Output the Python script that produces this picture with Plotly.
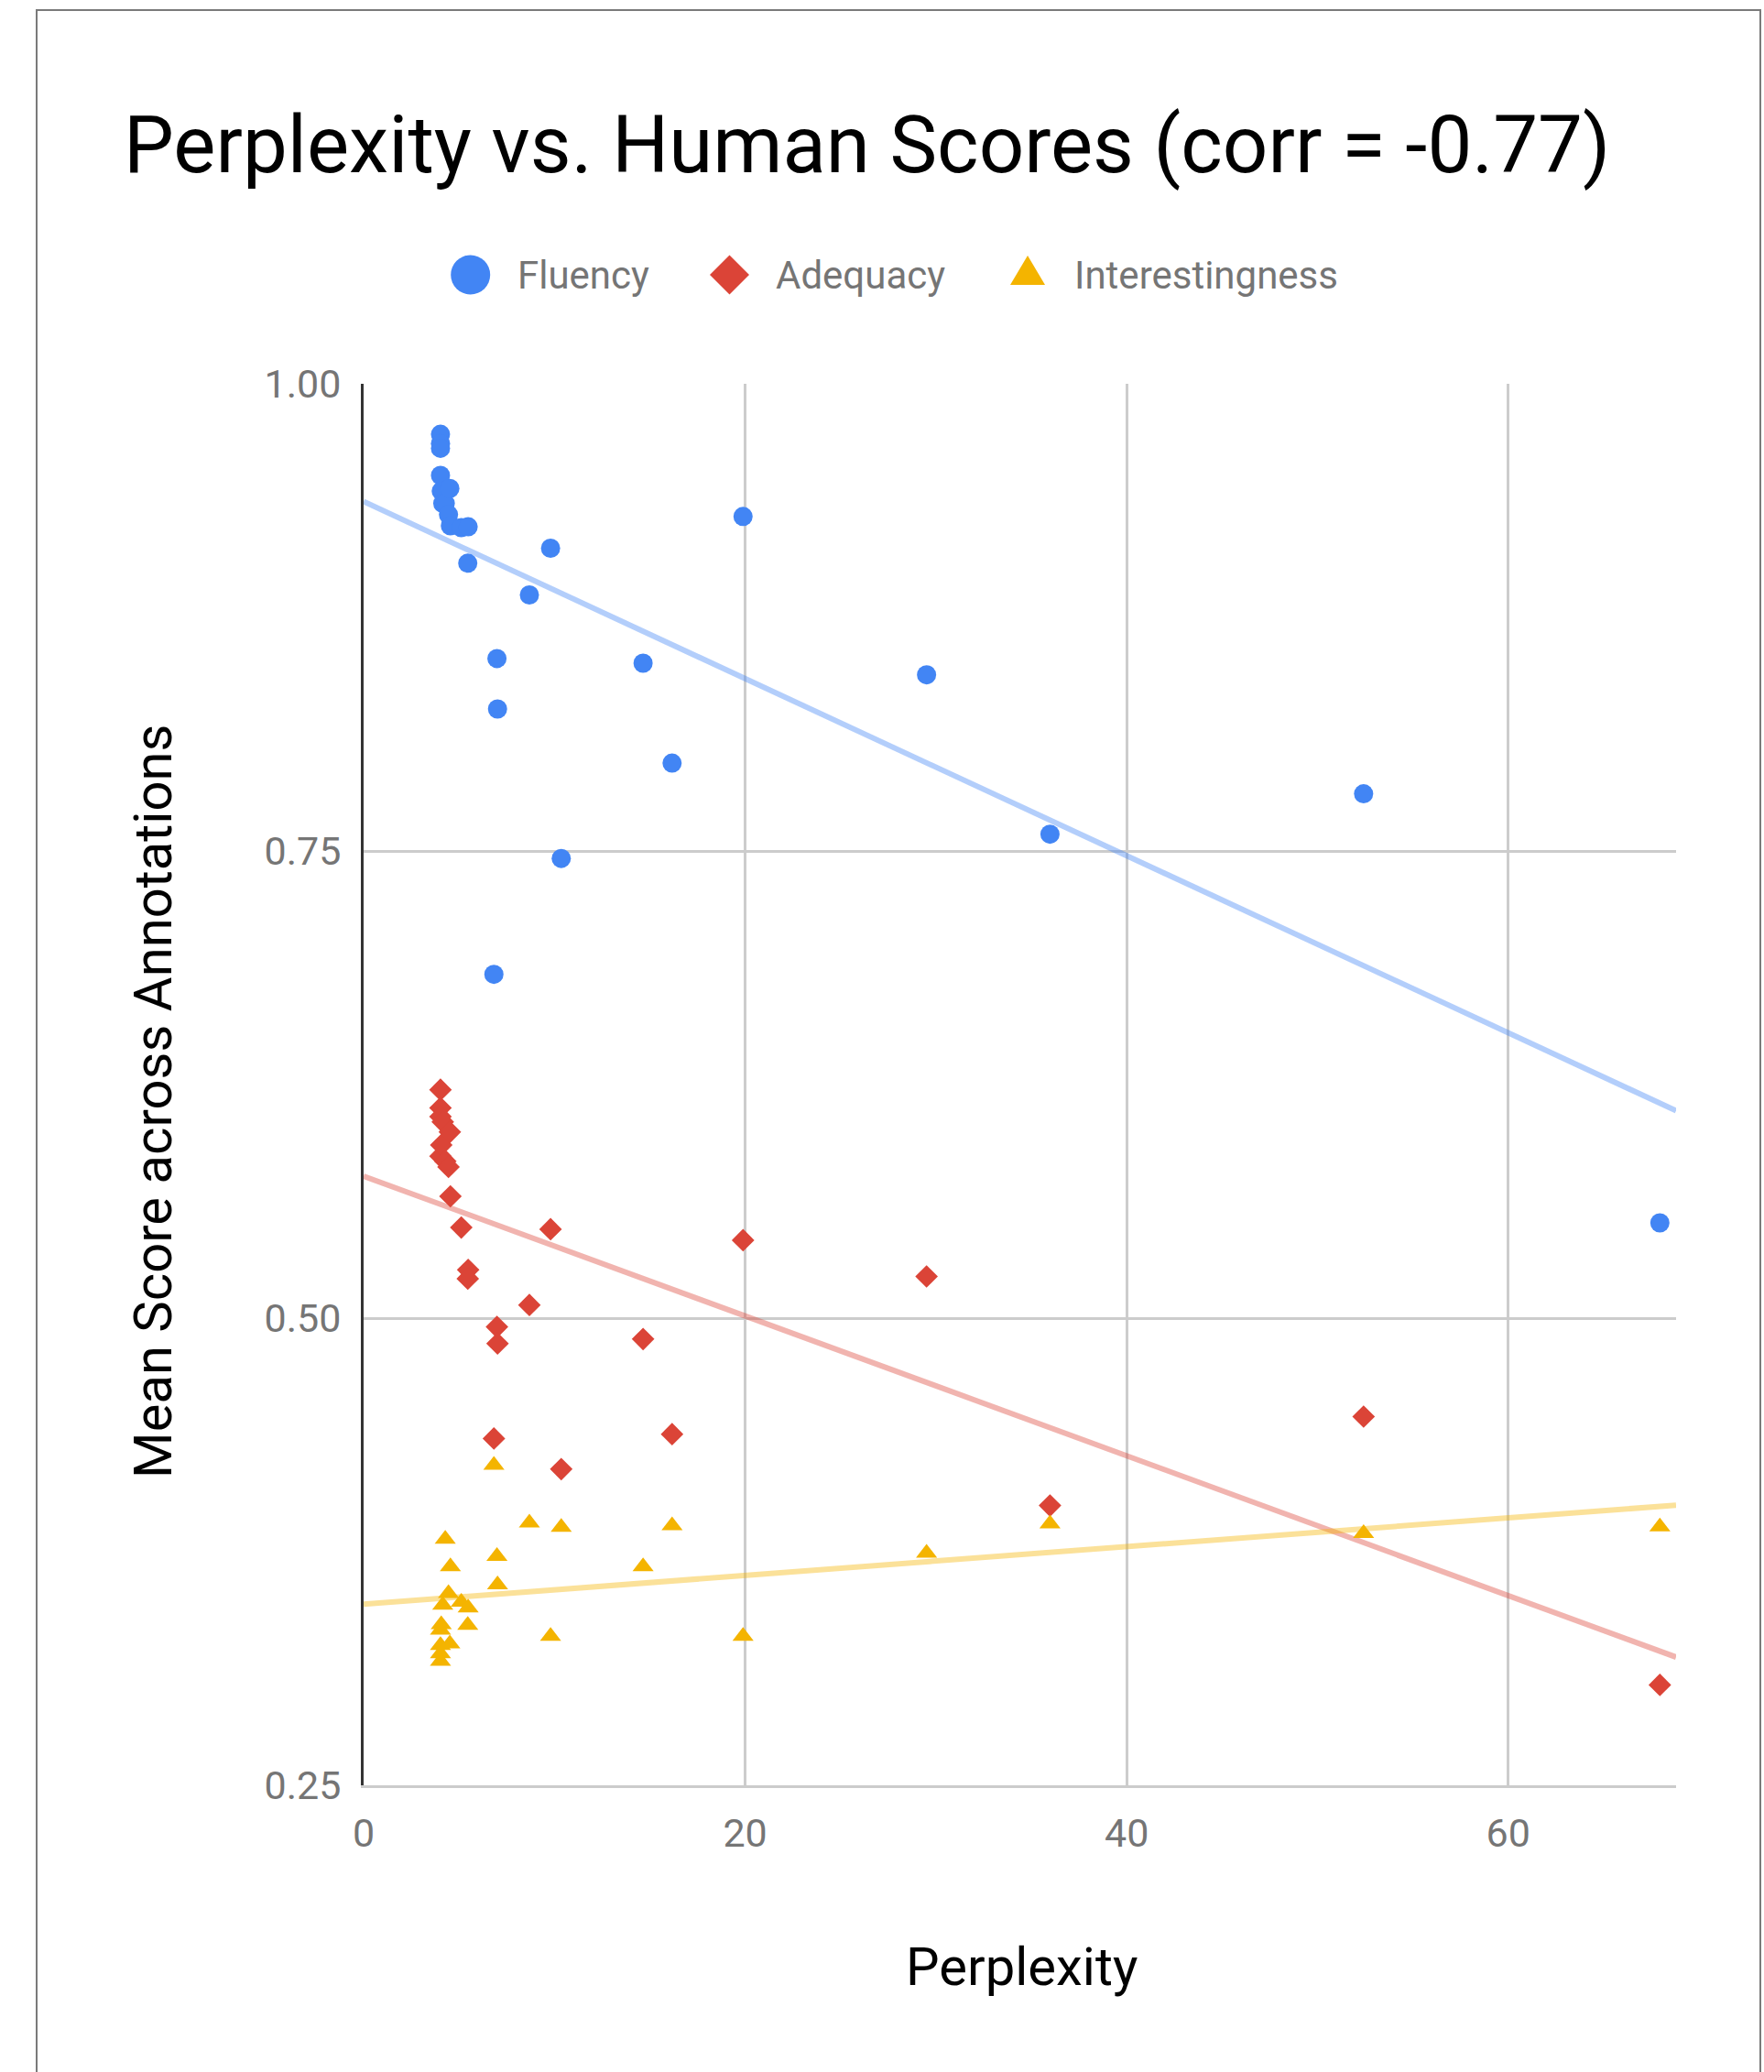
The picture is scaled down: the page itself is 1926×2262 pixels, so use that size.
import plotly.graph_objects as go

# ---- data: one entry per model ----
perplexity = [4.03, 4.03, 4.03, 4.03, 4.07, 4.15, 4.28, 4.45, 4.52, 4.55, 5.12, 5.48, 5.46,
              6.83, 6.99, 7.02, 8.69, 9.80, 10.36, 14.65, 16.17, 19.89, 29.51, 35.98, 52.42, 67.95]
fluency = [0.973, 0.968, 0.9655, 0.951, 0.9426, 0.936, 0.936, 0.930, 0.944, 0.924, 0.923, 0.9235, 0.904,
           0.684, 0.853, 0.826, 0.887, 0.912, 0.746, 0.8505, 0.797, 0.929, 0.8443, 0.759, 0.7806, 0.551]
adequacy = [0.6222, 0.6125, 0.6078, 0.5867, 0.5926, 0.605, 0.584, 0.5809, 0.5996, 0.5652, 0.5485, 0.5258, 0.5211,
            0.4356, 0.4953, 0.4864, 0.5070, 0.5476, 0.4192, 0.4888, 0.4379, 0.5417, 0.5223, 0.3997, 0.4473, 0.3037]
interestingness = [0.3205, 0.3164, 0.3249, 0.3331, 0.336, 0.3465, 0.3817, 0.3527, 0.3257, 0.367, 0.348, 0.345, 0.3357,
                   0.4213, 0.3725, 0.3573, 0.3904, 0.3298, 0.3881, 0.367, 0.389, 0.3298, 0.3743, 0.390, 0.3848, 0.3883]

# linear trendlines: value at the left and right ends of the perplexity axis
trend_ends = {
    "Fluency": [0.937, 0.611],
    "Adequacy": [0.576, 0.3186],
    "Interestingness": [0.3469, 0.3999],
}

series_names = ["Fluency", "Adequacy", "Interestingness"]
x_ticks = [0, 20, 40, 60]
y_ticks = [0.25, 0.50, 0.75, 1.00]
x_range = [0, 68.8]
y_range = [0.25, 1.0]

# ---- style ----
colors = ["#4285F4", "#DB4437", "#F4B400"]
trend_colors = ["rgba(66,133,244,0.40)", "rgba(219,68,55,0.40)", "rgba(244,180,0,0.40)"]
symbols = ["circle", "diamond", "triangle-up"]
sizes = [21, 19, 20]
FONT = "Roboto"
GREY = "#757575"

W, H = 1926, 2262
L, R, T, B = 397, 96, 419, 313
PW, PH = W - L - R, H - T - B


def px_x(p):
    return (p - L) / PW


def px_y(p):
    return (H - B - p) / PH


fig = go.Figure()

values = [fluency, adequacy, interestingness]

for name, tc in zip(series_names, trend_colors):
    fig.add_trace(go.Scatter(x=x_range, y=trend_ends[name], mode="lines",
                             line=dict(color=tc, width=6), hoverinfo="skip", showlegend=False))

for name, vals, c, s, sz in zip(series_names, values, colors, symbols, sizes):
    fig.add_trace(go.Scatter(x=perplexity, y=vals, mode="markers", name=name,
                             marker=dict(color=c, symbol=s, size=sz, line=dict(width=0)),
                             showlegend=False))

# ---- legend drawn with pixel-sized shapes ----
legend_y = px_y(300)
shapes = []
shapes.append(dict(type="circle", xref="paper", yref="paper", xsizemode="pixel", ysizemode="pixel",
                   xanchor=px_x(513.7), yanchor=legend_y, x0=-21.5, x1=21.5, y0=-21.5, y1=21.5,
                   fillcolor=colors[0], line=dict(width=0)))
shapes.append(dict(type="path", xref="paper", yref="paper", xsizemode="pixel", ysizemode="pixel",
                   xanchor=px_x(796.5), yanchor=legend_y,
                   path="M -21.5 0 L 0 21.5 L 21.5 0 L 0 -21.5 Z",
                   fillcolor=colors[1], line=dict(width=0)))
shapes.append(dict(type="path", xref="paper", yref="paper", xsizemode="pixel", ysizemode="pixel",
                   xanchor=px_x(1122), yanchor=px_y(295),
                   path="M -19 -16 L 19 -16 L 0 16 Z",
                   fillcolor=colors[2], line=dict(width=0)))
# outer chart frame
shapes.append(dict(type="rect", xref="paper", yref="paper",
                   x0=px_x(40), x1=px_x(1922), y0=px_y(2400), y1=px_y(11),
                   line=dict(color="#7a7a7a", width=2), fillcolor="rgba(0,0,0,0)", layer="below"))

annotations = []
for name, left in zip(series_names, [563, 845, 1171]):
    annotations.append(dict(text=name, xref="paper", yref="paper", x=px_x(left), y=legend_y,
                            xanchor="left", yanchor="middle", showarrow=False,
                            font=dict(family=FONT, size=42, color=GREY)))
annotations.append(dict(text="Perplexity", xref="paper", yref="paper", x=px_x(1115), y=px_y(2147),
                        xanchor="center", yanchor="middle", showarrow=False,
                        font=dict(family=FONT, size=58, color="#000000")))
annotations.append(dict(text="Mean Score across Annotations", xref="paper", yref="paper",
                        x=px_x(167), y=px_y(1203), xanchor="center", yanchor="middle",
                        textangle=-90, showarrow=False,
                        font=dict(family=FONT, size=58, color="#000000")))

fig.update_layout(
    width=W, height=H, autosize=False,
    margin=dict(l=L, r=R, t=T, b=B, pad=0),
    paper_bgcolor="white", plot_bgcolor="white",
    title=dict(text="Perplexity vs. Human Scores (corr = -0.77)", xref="container", yref="container",
               x=135 / W, xanchor="left", y=1 - 158 / H, yanchor="middle",
               font=dict(family=FONT, size=87, color="#000000")),
    shapes=shapes, annotations=annotations,
    showlegend=False,
)
fig.update_xaxes(range=x_range, tickvals=x_ticks, ticktext=[str(v) for v in x_ticks],
                 showgrid=True, gridcolor="#cccccc", gridwidth=2.5, zeroline=False,
                 showline=True, linecolor="#cccccc", linewidth=3, ticks="",
                 ticklabelstandoff=12,
                 tickfont=dict(family=FONT, size=43, color=GREY))
fig.update_yaxes(range=y_range, tickvals=y_ticks, ticktext=[f"{v:.2f}" for v in y_ticks],
                 showgrid=True, gridcolor="#cccccc", gridwidth=2.5, zeroline=False,
                 showline=True, linecolor="#333333", linewidth=3, ticks="",
                 ticklabelstandoff=13,
                 tickfont=dict(family=FONT, size=43, color=GREY))

fig.write_html("out.html")
